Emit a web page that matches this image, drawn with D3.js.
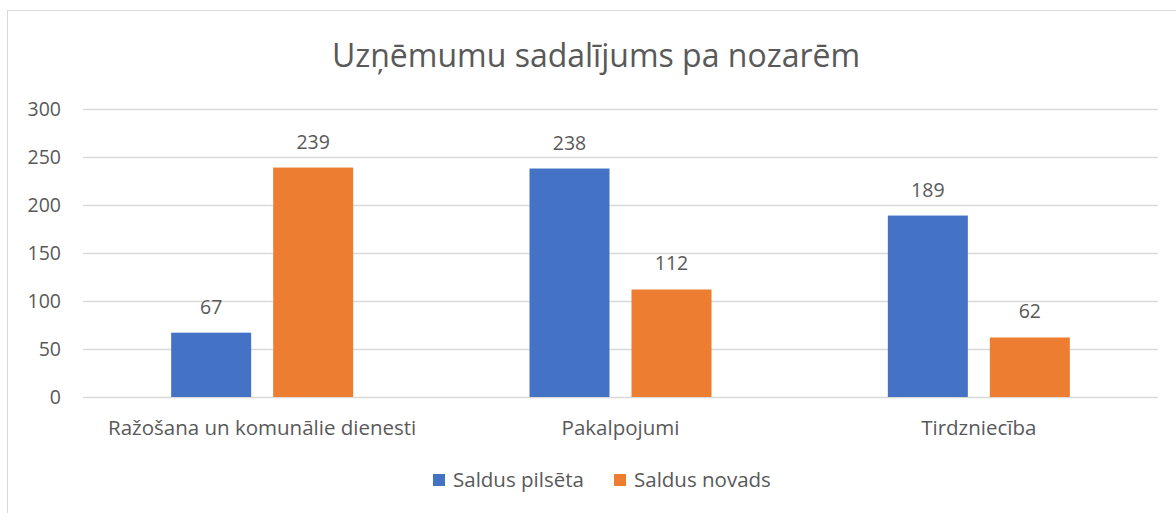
<!DOCTYPE html>
<html>
<head>
<meta charset="utf-8">
<script src="https://cdn.jsdelivr.net/npm/d3@7"></script>
<style>
  body { margin: 0; background: #fff; }
  text { font-family: "Open Sans", "Noto Sans", sans-serif; fill: #595959; }
</style>
</head>
<body>
<svg id="chart" width="1176" height="513"></svg>
<script>
var categories = ["Ražošana un komunālie dienesti", "Pakalpojumi", "Tirdzniecība"];
var seriesNames = ["Saldus pilsēta", "Saldus novads"];
var pilseta = [67, 238, 189];
var novads = [239, 112, 62];
var yTicks = [0, 50, 100, 150, 200, 250, 300];
var colors = ["#4472c4", "#ed7d31"];

(function () {
  var svg = d3.select("#chart"),
      margin = {top: 109, right: 18, bottom: 116, left: 83},
      width = +svg.attr("width") - margin.left - margin.right,
      height = +svg.attr("height") - margin.top - margin.bottom;

  // chart frame (cropped on right/bottom like the original)
  svg.append("rect").attr("x", 7.5).attr("y", 10.5).attr("width", 1200).attr("height", 600)
    .attr("fill", "#fff").attr("stroke", "#d9d9d9").attr("stroke-width", 1);

  svg.append("text").attr("x", 596).attr("y", 67).attr("text-anchor", "middle")
    .style("font-size", "32px").text("Uzņēmumu sadalījums pa nozarēm");

  var g = svg.append("g").attr("transform", "translate(" + margin.left + "," + margin.top + ")");

  var x0 = d3.scaleBand().domain(categories).range([0, width]);
  var x1 = d3.scaleBand().domain(seriesNames)
      .range([x0.bandwidth() / 2 - 91, x0.bandwidth() / 2 + 91])
      .paddingInner(22 / 102).paddingOuter(0);
  var y = d3.scaleLinear().domain([0, 300]).range([height, 0]);

  g.append("g").selectAll("line").data(yTicks).enter().append("line")
    .attr("x1", 0).attr("x2", width)
    .attr("y1", function (d) { return Math.round(y(d)) + 0.5; })
    .attr("y2", function (d) { return Math.round(y(d)) + 0.5; })
    .attr("stroke", "#d9d9d9").attr("stroke-width", 1.3);

  g.append("g").selectAll("text").data(yTicks).enter().append("text")
    .attr("x", -22).attr("y", function (d) { return y(d); }).attr("dy", "0.35em")
    .attr("text-anchor", "end").style("font-size", "19.5px").text(function (d) { return d; });

  var rows = categories.map(function (c, i) {
    return {cat: c, vals: [{key: seriesNames[0], value: pilseta[i], c: colors[0]},
                           {key: seriesNames[1], value: novads[i], c: colors[1]}]};
  });

  var grp = g.append("g").selectAll("g").data(rows).enter().append("g")
    .attr("transform", function (d) { return "translate(" + x0(d.cat) + ",0)"; });

  grp.selectAll("rect").data(function (d) { return d.vals; }).enter().append("rect")
    .attr("x", function (d) { return x1(d.key); })
    .attr("y", function (d) { return y(d.value); })
    .attr("width", x1.bandwidth())
    .attr("height", function (d) { return height - y(d.value); })
    .attr("fill", function (d) { return d.c; });

  grp.selectAll("text.lbl").data(function (d) { return d.vals; }).enter().append("text")
    .attr("class", "lbl")
    .attr("x", function (d) { return x1(d.key) + x1.bandwidth() / 2; })
    .attr("y", function (d) { return y(d.value) - 19; })
    .attr("text-anchor", "middle").style("font-size", "19.5px")
    .text(function (d) { return d.value; });

  g.append("g").selectAll("text").data(categories).enter().append("text")
    .attr("x", function (d) { return x0(d) + x0.bandwidth() / 2; })
    .attr("y", height + 38).attr("text-anchor", "middle").style("font-size", "20.5px")
    .text(function (d) { return d; });

  var lx = [433, 614];
  var leg = svg.append("g").selectAll("g").data(seriesNames).enter().append("g")
    .attr("transform", function (d, i) { return "translate(" + lx[i] + ",474)"; });
  leg.append("rect").attr("width", 12).attr("height", 12).attr("fill", function (d, i) { return colors[i]; });
  leg.append("text").attr("x", 20).attr("y", 6).attr("dy", "0.35em").style("font-size", "20.5px")
    .text(function (d) { return d; });
})();
</script>
</body>
</html>
